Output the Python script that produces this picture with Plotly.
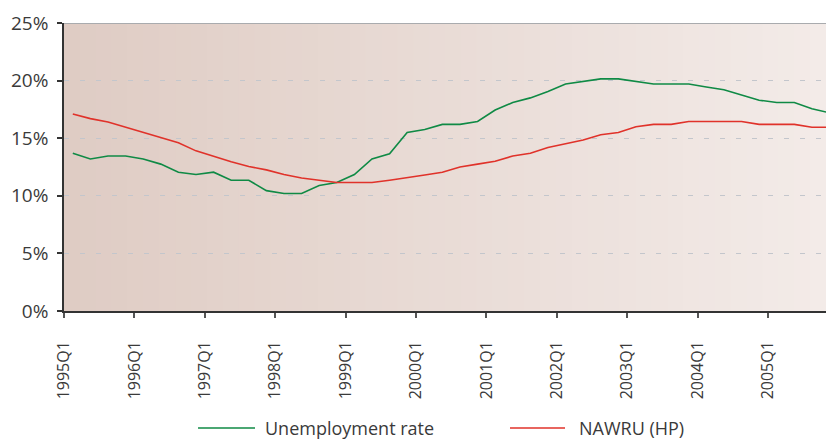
import plotly.graph_objects as go

years = list(range(1995, 2006))
quarters = [f"{y}Q{q}" for y in years for q in range(1, 5)]

unemployment = [13.7, 13.2, 13.45, 13.45, 13.2, 12.75, 12.05, 11.85,
                12.05, 11.35, 11.35, 10.45, 10.2, 10.2, 10.9, 11.15,
                11.85, 13.2, 13.65, 15.5, 15.75, 16.2, 16.2, 16.45,
                17.45, 18.1, 18.5, 19.05, 19.7, 19.95, 20.15, 20.15,
                19.9, 19.7, 19.7, 19.7, 19.45, 19.2, 18.75, 18.3,
                18.1, 18.1, 17.55, 17.2]
nawru = [17.1, 16.7, 16.4, 15.95, 15.55, 15.1, 14.6, 13.9,
         13.4, 12.95, 12.55, 12.25, 11.85, 11.55, 11.35, 11.15,
         11.15, 11.15, 11.35, 11.55, 11.8, 12.05, 12.5, 12.75,
         13.0, 13.45, 13.7, 14.2, 14.55, 14.85, 15.3, 15.5,
         16.0, 16.2, 16.2, 16.45, 16.45, 16.45, 16.45, 16.2,
         16.2, 16.2, 15.95, 15.95]

tick_labels = [f"{y}Q1" for y in years]
y_ticks = [0, 5, 10, 15, 20, 25]

FONT = "Open Sans, Noto Sans, sans-serif"
TXT = "#3a3a3a"
GREEN = "#0f8a45"
RED = "#e0322a"

idx = list(range(len(quarters)))

fig = go.Figure()
fig.add_trace(go.Scatter(x=idx, y=unemployment, mode="lines", name="Unemployment rate",
                         line=dict(color=GREEN, width=1.6), customdata=quarters,
                         hovertemplate="%{customdata}: %{y:.1f}%<extra></extra>"))
fig.add_trace(go.Scatter(x=idx, y=nawru, mode="lines", name="NAWRU (HP)",
                         line=dict(color=RED, width=1.6), customdata=quarters,
                         hovertemplate="%{customdata}: %{y:.1f}%<extra></extra>"))

# gradient background as vertical strips
shapes = []
n = 48
c0 = (223, 204, 196)
c1 = (243, 235, 232)
for i in range(n):
    t = i / (n - 1)
    c = tuple(round(c0[k] + (c1[k] - c0[k]) * t) for k in range(3))
    shapes.append(dict(type="rect", xref="paper", yref="paper",
                       x0=i / n, x1=(i + 1) / n + 0.002, y0=0, y1=1,
                       fillcolor=f"rgb{c}", line=dict(width=0), layer="below"))
# top border line
shapes.append(dict(type="line", xref="paper", yref="y", x0=0, x1=1, y0=25, y1=25,
                   line=dict(color="#a9abae", width=2), layer="above"))
# manual legend
leg_y = -0.406
shapes.append(dict(type="line", xref="paper", yref="paper", x0=0.1759, x1=0.2507,
                   y0=leg_y, y1=leg_y, line=dict(color=GREEN, width=1.6)))
shapes.append(dict(type="line", xref="paper", yref="paper", x0=0.5853, x1=0.6575,
                   y0=leg_y, y1=leg_y, line=dict(color=RED, width=1.6)))

annotations = [
    dict(text="Unemployment rate", xref="paper", yref="paper", x=0.2612, y=leg_y,
         xanchor="left", yanchor="middle", showarrow=False,
         font=dict(family=FONT, size=18, color=TXT)),
    dict(text="NAWRU (HP)", xref="paper", yref="paper", x=0.6732, y=leg_y,
         xanchor="left", yanchor="middle", showarrow=False,
         font=dict(family=FONT, size=18, color=TXT)),
]

fig.update_layout(
    width=826, height=439,
    margin=dict(l=64, r=0, t=23, b=128, autoexpand=False),
    paper_bgcolor="white",
    plot_bgcolor="rgba(0,0,0,0)",
    showlegend=False,
    shapes=shapes,
    annotations=annotations,
    font=dict(family=FONT, color=TXT),
)
fig.update_xaxes(
    range=[-0.5, 42.8],
    tickmode="array",
    tickvals=[i * 4 - 0.5 for i in range(len(tick_labels))],
    ticktext=tick_labels,
    tickangle=-90,
    ticks="outside", ticklen=5, tickcolor="#555555", tickwidth=1.5,
    ticklabelstandoff=17,
    showline=True, linecolor="#333333", linewidth=1.5,
    showgrid=False, zeroline=False, automargin=False,
    tickfont=dict(family=FONT, size=16, color=TXT),
)
fig.update_yaxes(
    range=[0, 25],
    tickmode="array",
    tickvals=y_ticks,
    ticktext=[f"{v}%" for v in y_ticks],
    ticks="outside", ticklen=5, tickcolor="#333333", tickwidth=1.5,
    ticklabelstandoff=5,
    showline=True, linecolor="#333333", linewidth=1.5,
    showgrid=True, gridcolor="#c3c6cc", gridwidth=1, griddash="5px,11px",
    zeroline=False, automargin=False,
    tickfont=dict(family=FONT, size=19, color=TXT),
)

fig.write_html("out.html", config={"displayModeBar": False},
               post_script="document.body.style.margin='0';document.body.style.overflow='hidden';")
